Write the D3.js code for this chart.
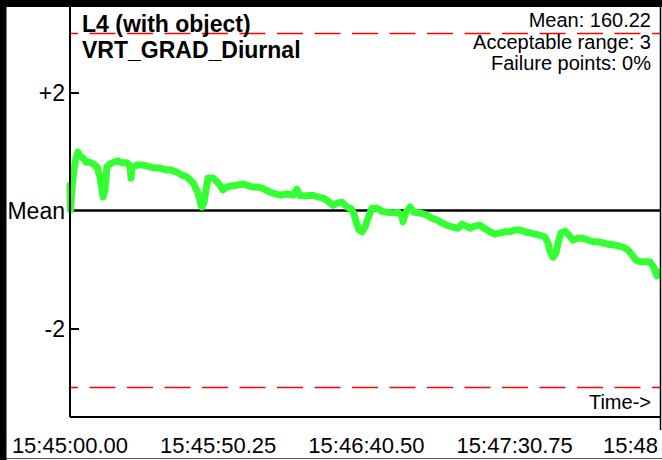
<!DOCTYPE html>
<html>
<head>
<meta charset="utf-8">
<script src="https://cdn.jsdelivr.net/npm/d3@7"></script>
<style>
  html, body { margin: 0; padding: 0; background: #fff; }
  svg { display: block; }
  text { font-family: "Liberation Sans", Arial, Helvetica, sans-serif; fill: #000; }
</style>
</head>
<body>
<svg id="chart" width="662" height="460"></svg>
<script>
// ---- data (seconds after 15:45:00, deviation from mean in units) ----
const times = [0,0.17,0.68,1.36,2.03,2.71,3.39,4.41,5.42,6.78,7.80,9.15,10.17,10.85,11.19,11.86,12.54,13.56,14.92,16.27,17.63,19.32,20.34,20.68,21.02,22.71,24.75,27.12,28.81,30.51,32.20,33.90,36.27,37.97,39.66,41.69,43.39,44.41,44.75,45.42,46.10,46.78,48.47,50.17,51.86,53.22,54.92,56.61,58.31,60.0,61.69,63.39,65.08,67.80,71.19,73.56,75.59,76.95,77.97,80.0,82.37,84.07,85.76,87.46,89.15,90.85,92.20,93.90,95.25,96.27,96.95,97.97,98.98,100.0,101.02,102.37,104.07,105.76,107.46,109.49,111.19,112.54,112.88,113.56,115.25,116.61,118.64,121.02,122.71,124.41,126.10,127.80,129.83,131.53,132.88,134.24,135.59,137.29,138.98,140.68,142.37,144.07,145.76,147.46,149.15,150.85,152.54,154.24,155.93,157.63,159.32,161.02,162.03,162.71,163.73,164.75,165.42,166.44,167.80,169.15,170.51,172.20,173.90,175.59,177.29,178.98,180.68,182.37,184.07,185.76,187.46,189.15,190.51,191.86,193.22,194.92,196.61,197.97,198.98,200.0];
const values = [0.43,0.01,0.38,0.69,0.89,0.99,0.92,0.89,0.82,0.82,0.79,0.74,0.57,0.35,0.23,0.35,0.74,0.79,0.82,0.84,0.81,0.81,0.75,0.55,0.74,0.77,0.77,0.74,0.72,0.72,0.69,0.69,0.65,0.60,0.57,0.47,0.30,0.09,0.06,0.13,0.35,0.55,0.55,0.47,0.35,0.40,0.42,0.43,0.45,0.43,0.40,0.40,0.38,0.31,0.26,0.28,0.26,0.36,0.25,0.25,0.26,0.23,0.21,0.16,0.09,0.13,0.14,0.06,0.03,-0.06,-0.19,-0.33,-0.36,-0.28,-0.13,0.04,0.04,-0.01,-0.03,-0.04,-0.03,-0.09,-0.19,-0.06,0.06,-0.03,-0.04,-0.08,-0.13,-0.16,-0.21,-0.25,-0.28,-0.30,-0.23,-0.26,-0.30,-0.26,-0.25,-0.31,-0.36,-0.40,-0.38,-0.36,-0.36,-0.33,-0.33,-0.36,-0.38,-0.40,-0.42,-0.45,-0.55,-0.69,-0.79,-0.72,-0.55,-0.38,-0.35,-0.42,-0.50,-0.47,-0.47,-0.50,-0.53,-0.53,-0.55,-0.57,-0.58,-0.60,-0.62,-0.67,-0.75,-0.84,-0.87,-0.87,-0.87,-0.97,-1.11,-1.04];

const xTickValues = [0, 50.25, 100.5, 150.75, 201];
const xTickLabels = ["15:45:00.00", "15:45:50.25", "15:46:40.50", "15:47:30.75", "15:48"];
const yTickValues = [2, 0, -2];
const yTickLabels = ["+2", "Mean", "-2"];
const acceptableRange = 3;
const titleLines = ["L4 (with object)", "VRT_GRAD_Diurnal"];
const infoLines = ["Mean: 160.22", "Acceptable range: 3", "Failure points: 0%"];
const axisTitle = "Time->";

(function () {
// ---- layout ----
const W = 662, H = 460;
const pL = 70, pR = 660, pT = 7, pB = 417;

const svg = d3.select("#chart");
svg.append("rect").attr("width", W).attr("height", H).attr("fill", "#fff");

const x = d3.scaleLinear().domain([0, 200]).range([pL, pR]);
const y = d3.scaleLinear().domain([-3.5, 3.45]).range([pB, pT]);

svg.append("defs").append("clipPath").attr("id", "clipR")
  .append("rect").attr("x", 0).attr("y", 0).attr("width", pR + 1).attr("height", H);

// limit lines
[acceptableRange, -acceptableRange].forEach(v => {
  svg.append("line")
    .attr("x1", pL).attr("x2", pR)
    .attr("y1", y(v)).attr("y2", y(v))
    .attr("stroke", "#ff0000").attr("stroke-width", 1.4)
    .attr("stroke-dasharray", "26,11.5")
    .attr("stroke-dashoffset", 18);
});

// mean line
svg.append("line")
  .attr("x1", pL).attr("x2", pR)
  .attr("y1", y(0)).attr("y2", y(0))
  .attr("stroke", "#000").attr("stroke-width", 2.6);

// data line
const line = d3.line().x((d, i) => x(times[i])).y(d => y(d));
svg.append("path")
  .datum(values)
  .attr("d", line)
  .attr("fill", "none")
  .attr("stroke", "#33ff33")
  .attr("stroke-width", 7)
  .attr("stroke-linejoin", "round")
  .attr("stroke-linecap", "round")
  .attr("clip-path", "url(#clipR)");

// y axis
const yAxis = d3.axisRight(y).tickValues([2, -2]).tickSize(9).tickFormat("");
const gy = svg.append("g").attr("transform", `translate(${pL},0)`).call(yAxis);
gy.select(".domain").remove();
gy.selectAll(".tick line").attr("stroke", "#000").attr("stroke-width", 2);
svg.append("line").attr("x1", pL).attr("x2", pL).attr("y1", pT).attr("y2", pB)
  .attr("stroke", "#000").attr("stroke-width", 2);
yTickValues.forEach((v, i) => {
  svg.append("text")
    .attr("x", pL - 5).attr("y", y(v)).attr("dy", "0.36em")
    .attr("text-anchor", "end").attr("font-size", 23)
    .text(yTickLabels[i]);
});

// x axis
const xAxis = d3.axisTop(x).tickValues(xTickValues).tickSize(9).tickFormat("");
const gx = svg.append("g").attr("transform", `translate(0,${pB})`).attr("clip-path", "url(#clipR)").call(xAxis);
gx.select(".domain").remove();
gx.selectAll(".tick line").attr("stroke", "#000").attr("stroke-width", 2);
svg.append("line").attr("x1", pL).attr("x2", pR).attr("y1", pB).attr("y2", pB)
  .attr("stroke", "#000").attr("stroke-width", 2);
xTickValues.forEach((v, i) => {
  const last = i === xTickValues.length - 1;
  svg.append("text")
    .attr("x", last ? pR - 2 : x(v)).attr("y", pB + 36)
    .attr("text-anchor", last ? "end" : "middle").attr("font-size", 22)
    .text(xTickLabels[i]);
});

svg.append("text").attr("x", 651).attr("y", 409)
  .attr("text-anchor", "end").attr("font-size", 20).text(axisTitle);

// titles
titleLines.forEach((t, i) => {
  svg.append("text").attr("x", 82).attr("y", 32 + i * 26)
    .attr("font-size", 23).attr("font-weight", "bold").text(t);
});
infoLines.forEach((t, i) => {
  svg.append("text").attr("x", 651).attr("y", 27 + i * 21.5)
    .attr("text-anchor", "end").attr("font-size", 20).text(t);
});

// frame
svg.append("line").attr("x1", pR + 0.5).attr("x2", pR + 0.5).attr("y1", 0).attr("y2", 430)
  .attr("stroke", "#000").attr("stroke-width", 1.5);
svg.append("line").attr("x1", 0).attr("x2", W).attr("y1", 458.5).attr("y2", 458.5)
  .attr("stroke", "#555").attr("stroke-width", 1);
svg.append("rect").attr("x", 0).attr("y", 0).attr("width", 6.5).attr("height", H).attr("fill", "#000");
svg.append("rect").attr("x", 0).attr("y", 0).attr("width", W).attr("height", 7).attr("fill", "#000");
})();
</script>
</body>
</html>
